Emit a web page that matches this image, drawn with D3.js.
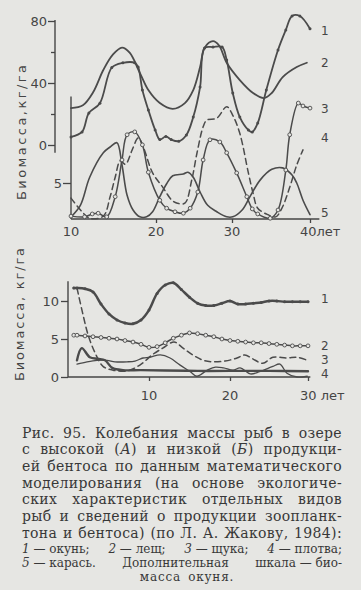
<!DOCTYPE html>
<html><head><meta charset="utf-8">
<script src="https://cdn.jsdelivr.net/npm/d3@7"></script>
<style>
html,body{margin:0;padding:0;background:#e6e6e3;}
svg{display:block;}
</style></head><body>
<svg id="c" width="361" height="590"></svg>
<script>
// ---------- DATA ----------
// Panel A (high benthos production), years 10..40
const yearTicksA = [10, 20, 30, 40];
const perchTicksA = [0, 40, 80];      // additional scale: perch biomass
const perchMinorA = [20, 60];
const lowerTicksA = [5];
const seriesNames = ["1", "2", "3", "4", "5"];

const a1 = [[10,5.2],[11.3,8.4],[12.1,20.6],[13.4,27],[14.8,50],[16.1,53],[17.5,53],[17.9,50.3],[18.4,35.5],[19.1,22.6],[19.9,9.7],[20.5,3.5],[21.3,5.5],[22.0,3.5],[23.0,2.5],[24.0,6.5],[24.9,18],[25.8,37.4],[26.4,62.6],[27.5,63.2],[28.7,63.2],[29.3,54.8],[30.1,33.5],[31.0,18],[32.1,9.7],[32.6,8.4],[33.3,14.2],[34.4,35.5],[35.9,61.3],[36.9,74.2],[37.7,83.2],[38.7,83.2],[40,75]];
const a2 = [[10,15.4],[11.4,15.8],[12.6,17.6],[13.8,20.7],[14.9,22.8],[16.0,23.8],[16.9,23.1],[18.1,20.3],[19.1,17.9],[20.5,16.1],[22.2,15.3],[23.8,16.1],[24.9,17.9],[25.8,21.1],[26.4,23.8],[27.5,24.7],[28.3,24.1],[29.3,21.7],[31.0,19.3],[32.7,17.5],[34.1,16.8],[35.1,17.5],[36.5,19.7],[38.3,21.1],[39.6,21.7]];
const a3 = [[10,0.4],[11.6,0.3],[12.5,0.7],[13.2,0.8],[14.2,0.3],[15.2,3.1],[16.0,8.2],[16.6,11.7],[17.5,12.1],[18.4,10.3],[19.1,6.5],[20.5,2.6],[21.4,1.5],[22.5,1.0],[23.6,0.8],[24.5,1.5],[25.5,3.75],[26.2,8.2],[27.1,11.0],[28.4,10.7],[29.3,9.2],[30.6,6.4],[31.9,3.1],[32.6,1.4],[33.3,0.7],[34.9,0.1],[35.9,1.25],[36.9,6.8],[37.4,11.7],[38.5,16.1],[39.1,15.7],[40,15.4]];
const a4 = [[10,2.9],[11.3,1.0],[12.2,0.1],[13.8,0.4],[14.6,3.1],[15.2,5.8],[15.8,8.1],[16.4,7.6],[17.2,9.6],[17.9,11.25],[18.5,10.0],[19.6,6.4],[20.9,4.4],[22.1,2.6],[22.8,2.2],[23.8,2.2],[24.7,5.4],[25.4,9.2],[26.2,12.8],[26.7,13.75],[28.0,14.0],[29.3,15.6],[30.1,14.4],[31.0,11.9],[32.1,6.4],[32.7,3.6],[33.3,1.5],[34.6,0.6],[35.6,0.3],[36.4,1.5],[37.4,4.4],[38.3,7.5],[39.1,9.6]];
const a5 = [[10,0.3],[11.1,1.9],[12.2,5.8],[13.8,9.2],[14.6,10.0],[15.4,10.6],[16.0,7.5],[16.6,3.3],[17.3,1.25],[18.1,0.3],[18.9,0.3],[19.6,1.0],[20.5,3.1],[21.4,4.9],[22.2,6.0],[23.6,6.25],[24.2,6.5],[24.9,5.8],[25.8,3.75],[26.8,1.9],[28.0,1.0],[29.3,0.3],[30.1,0.3],[31.3,1.25],[32.3,3.1],[33.6,5.4],[35.1,6.9],[36.5,7.1],[37.7,6.1],[38.3,5.0],[39.1,2.6],[40,0.6]];

// Panel B (low benthos production), years 0..30
const yearTicksB = [10, 20, 30];
const valueTicksB = [0, 5, 10];
const b1 = [[0.6,11.7],[1,11.7],[2,11.6],[3,11.2],[4,9.6],[5,8.3],[6,7.5],[7,7.1],[8,7.0],[9,7.5],[10,8.8],[11,11.0],[12,12.1],[13,12.4],[14,11.5],[15,10.5],[16,9.7],[17,9.4],[18,9.4],[19,9.7],[20,10.0],[21,9.6],[22,9.6],[23,9.7],[24,9.8],[25,10.0],[26,10.0],[27,9.9],[28,9.9],[29,9.9],[30,9.9]];
const b2 = [[0.6,5.5],[1,5.5],[2,5.4],[3,5.3],[4,5.2],[5,5.1],[6,5.0],[7,4.8],[8,4.6],[9,4.3],[10,3.9],[11,4.0],[12,4.5],[13,5.1],[14,5.5],[15,5.8],[16,5.7],[17,5.5],[18,5.3],[19,5.0],[20,4.8],[21,4.7],[22,4.6],[23,4.5],[24,4.5],[25,4.4],[26,4.3],[27,4.2],[28,4.1],[29,4.1],[30,4.1]];
const b3 = [[1.0,11.7],[1.75,8.2],[2.4,5.5],[3.25,3.2],[4.25,1.4],[5.5,0.9],[7.25,0.8],[8.9,1.6],[10.5,3.0],[11.7,3.8],[13.1,4.6],[14.2,3.8],[15.4,2.9],[16.7,2.2],[17.9,2.0],[19.4,2.1],[20.9,2.5],[21.9,2.9],[22.9,2.4],[24.2,1.8],[25.5,2.6],[27.3,2.5],[28.6,2.6],[29.9,2.2]];
const b4 = [[1.0,2.2],[1.6,3.8],[2.6,2.6],[3.6,2.4],[4.5,2.2],[5.4,1.2],[6.75,0.9],[9,0.9],[12,0.85],[16,0.8],[20,0.8],[25,0.8],[30,0.75]];
const b5 = [[1.0,1.7],[2.25,2.0],[3.5,2.2],[4.75,2.2],[5.75,2.0],[7.25,2.0],[8.25,2.1],[9.25,2.5],[10.1,2.6],[11.4,2.9],[12.6,2.5],[13.8,1.6],[15.1,0.7],[15.9,0.1],[17.2,0.9],[18.2,1.3],[19.2,1.2],[20.4,0.9],[21.3,1.2],[22.6,0.4],[23.8,0.7],[25.5,1.4],[26.4,1.7],[27.3,0.5],[28.6,0.0],[29.9,0.1]];

const yTitleA = "Биомасса,кг/га";
const yTitleB = "Биомасса, кг/га";
const unitA = "лет", unitB = " лет";

const captionLines = [
  "Рис. 95. Колебания массы рыб в озере",
  "с высокой (*А*) и низкой (*Б*) продукци-",
  "ей бентоса по данным математического",
  "моделирования (на основе экологиче-",
  "ских характеристик отдельных видов",
  "рыб и сведений о продукции зоопланк-",
  "тона и бентоса) (по Л. А. Жакову, 1984):"
];
const noteLines = [
  "*1*~—~окунь; *2*~—~лещ; *3*~—~щука; *4*~—~плотва;",
  "*5*~—~карась. Дополнительная шкала~—~био-"
];
const noteLast = "масса окуня.";

// ---------- DRAW ----------
const ink = "#454545", lineInk = "#4b4b4b", paper = "#e6e6e3";
const svg = d3.select("#c");
const sans = "'DejaVu Sans', sans-serif";

const xA = d3.scaleLinear().domain([10,20,30,40]).range([71,156,232,310]);
const yAup = d3.scaleLinear().domain([0,80]).range([145,21]);
const yAlo = d3.scaleLinear().domain([0,5]).range([219,183]);
const xB = d3.scaleLinear().domain([0,10,20,30]).range([69,149,230,308]);
const yB = d3.scaleLinear().domain([0,10]).range([377,301]);

function styleAxis(g){
  g.select(".domain").remove();
  g.selectAll("line").attr("stroke", ink).attr("stroke-width", 1.3);
  g.selectAll("text").attr("fill", ink).style("font-family", sans).style("font-size","13px");
}
function vline(x, y0, y1){
  svg.append("line").attr("x1",x).attr("x2",x).attr("y1",y0).attr("y2",y1)
    .attr("stroke",ink).attr("stroke-width",1.4);
}
function hline(y, x0, x1){
  svg.append("line").attr("x1",x0).attr("x2",x1).attr("y1",y).attr("y2",y)
    .attr("stroke",ink).attr("stroke-width",1.4);
}
function yTitle(text, x, yBottom, len){
  const t = svg.append("text").attr("transform",`translate(${x},${yBottom}) rotate(-90)`)
    .attr("text-anchor","start").attr("fill",ink).style("font-family",sans).style("font-size","13px").text(text);
  const L = t.node().getComputedTextLength();
  t.style("letter-spacing", ((len - L)/(text.length-1)) + "px");
}
const fmt = d3.format("d");

// --- Panel A axes ---
vline(xA(10)-16, yAup(80.6), yAup(-5));
svg.append("g").attr("transform",`translate(${xA(10)-16},0)`)
  .call(d3.axisLeft(yAup).tickValues(perchTicksA).tickSize(7).tickPadding(1).tickFormat(fmt)).call(styleAxis);
svg.append("g").attr("transform",`translate(${xA(10)-16},0)`)
  .call(d3.axisLeft(yAup).tickValues(perchMinorA).tickSize(4).tickFormat("")).call(styleAxis);

vline(xA(10), yAlo(17), yAlo(0));
svg.append("g").attr("transform",`translate(${xA(10)},0)`)
  .call(d3.axisLeft(yAlo).tickValues(lowerTicksA).tickSize(8).tickPadding(1).tickFormat(fmt)).call(styleAxis);

hline(yAlo(0), xA(10), xA(41.2));
svg.append("g").attr("transform",`translate(0,${yAlo(0)})`)
  .call(d3.axisBottom(xA).tickValues(yearTicksA.slice(1)).tickSize(4).tickFormat("")).call(styleAxis);
yearTicksA.forEach((v,i)=>{
  const last = i===yearTicksA.length-1;
  svg.append("text").attr("x", last ? xA(v)-10 : xA(v)).attr("y", yAlo(0)+17)
    .attr("text-anchor", last ? "start" : "middle")
    .attr("fill",ink).style("font-family",sans).style("font-size","13px")
    .text(last ? v+unitA : v);
});
yTitle(yTitleA, 26, 200, 135);

// --- series helpers ---
const lineGen = (xs, ys) => d3.line().x(d=>xs(d[0])).y(d=>ys(d[1])).curve(d3.curveCatmullRom.alpha(0.5));
function drawSeries(data, xs, ys, opt){
  svg.append("path").datum(data).attr("d", lineGen(xs,ys)).attr("fill","none")
    .attr("stroke", lineInk).attr("stroke-width", opt.w || 1.6)
    .attr("stroke-dasharray", opt.dash || null).attr("stroke-linejoin","round").attr("stroke-linecap","round");
  if (opt.marker === "dot") {
    svg.append("g").selectAll("circle").data(data).join("circle")
      .attr("cx",d=>xs(d[0])).attr("cy",d=>ys(d[1])).attr("r", opt.r || 1.6).attr("fill", lineInk);
  } else if (opt.marker === "ring") {
    svg.append("g").selectAll("circle").data(data).join("circle")
      .attr("cx",d=>xs(d[0])).attr("cy",d=>ys(d[1])).attr("r", opt.r || 1.9)
      .attr("fill",paper).attr("stroke", lineInk).attr("stroke-width",0.9);
  }
}
drawSeries(a2, xA, yAlo, {w:1.8});
drawSeries(a1, xA, yAup, {w:1.8, marker:"dot", r:1.5});
drawSeries(a5, xA, yAlo, {w:1.6});
drawSeries(a4, xA, yAlo, {w:1.5, dash:"6,4"});
drawSeries(a3, xA, yAlo, {w:1.5, marker:"ring", r:1.9});

const endA = [a1, a2, a3, a4, a5];
const scaleA = [yAup, yAlo, yAlo, yAlo, yAlo];
const labelShiftA = [2, 0, 0, -12, -2];
endA.forEach((s,i)=>{
  const e = s[s.length-1];
  svg.append("text").attr("x", xA(40)+11).attr("y", scaleA[i](e[1]) + labelShiftA[i] + 4.5)
    .attr("fill",ink).style("font-family",sans).style("font-size","12px").text(seriesNames[i]);
});

// --- Panel B axes ---
vline(xB(0)-1, yB(12.6), yB(0));
svg.append("g").attr("transform",`translate(${xB(0)-1},0)`)
  .call(d3.axisLeft(yB).tickValues(valueTicksB).tickSize(7).tickPadding(2).tickFormat(fmt)).call(styleAxis);
hline(yB(0), xB(0)-1, xB(30.3));
svg.append("g").attr("transform",`translate(0,${yB(0)})`)
  .call(d3.axisBottom(xB).tickValues(yearTicksB).tickSize(4).tickFormat("")).call(styleAxis);
yearTicksB.forEach((v,i)=>{
  const last = i===yearTicksB.length-1;
  svg.append("text").attr("x", last ? xB(v)-8 : xB(v)).attr("y", yB(0)+23)
    .attr("text-anchor", last ? "start" : "middle")
    .attr("fill",ink).style("font-family",sans).style("font-size","13px")
    .text(last ? v+unitB : v);
});
yTitle(yTitleB, 24, 381, 133);

drawSeries(b5, xB, yB, {w:1.3});
drawSeries(b4, xB, yB, {w:2.4});
drawSeries(b3, xB, yB, {w:1.5, dash:"6,4"});
drawSeries(b2, xB, yB, {w:1.5, marker:"ring", r:1.9});
drawSeries(b1, xB, yB, {w:2.5, marker:"dot", r:1.5});

const endB = [b1, b2, b3, b4];
const labelShiftB = [-3, 0, -1, 2];
endB.forEach((s,i)=>{
  const e = s[s.length-1];
  svg.append("text").attr("x", xB(30)+13).attr("y", yB(e[1]) + labelShiftB[i] + 4.5)
    .attr("fill",ink).style("font-family",sans).style("font-size","12px").text(seriesNames[i]);
});

// --- Caption ---
const serif = "'DejaVu Serif', 'Liberation Serif', serif";
const X0 = 22, X1 = 342;
function parseToken(tok){
  const parts=[]; const re=/\*([^*]+)\*/g; let last=0, m;
  while((m=re.exec(tok))){ if(m.index>last) parts.push({t:tok.slice(last,m.index),it:false}); parts.push({t:m[1],it:true}); last=re.lastIndex; }
  if(last<tok.length) parts.push({t:tok.slice(last),it:false});
  parts.forEach(p=>p.t=p.t.replace(/~/g,"\u00a0"));
  return parts;
}
function drawLine(str, y, size, mode, ls){
  const toks = str.split(" ").map(parseToken);
  const els = toks.map(parts=>{
    const t = svg.append("text").attr("y",y).attr("fill","#383838")
      .style("font-family",serif).style("font-size",size+"px").style("letter-spacing",(ls||0)+"px");
    parts.forEach(p=>t.append("tspan").text(p.t).style("font-style",p.it?"italic":"normal"));
    return t;
  });
  let widths = els.map(e=>e.node().getComputedTextLength());
  let total = d3.sum(widths);
  const n = els.length, minGap = size*0.35;
  if (mode !== "center" && total + minGap*(n-1) > X1 - X0) {
    const chars = d3.sum(toks, p=>d3.sum(p, q=>q.t.length));
    const adj = (X1 - X0 - minGap*(n-1) - total)/chars;
    els.forEach(e=>e.style("letter-spacing",((ls||0)+adj)+"px"));
    widths = els.map(e=>e.node().getComputedTextLength());
    total = d3.sum(widths);
  }
  let gap, x;
  if (mode==="center"){ gap = size*0.6; x = 187 - (total + gap*(n-1))/2; }
  else { gap = (X1 - X0 - total)/(n-1); x = X0; }
  els.forEach((e,i)=>{ e.attr("x",x); x += widths[i] + gap; });
}
captionLines.forEach((l,i)=>drawLine(l, 437.5 + i*16.67, 14, "justify", 0.35));
noteLines.forEach((l,i)=>drawLine(l, 553 + i*14.2, 12, "justify"));
drawLine(noteLast, 553 + 2*14.2, 12, "center", 0.8);
</script>
</body></html>
